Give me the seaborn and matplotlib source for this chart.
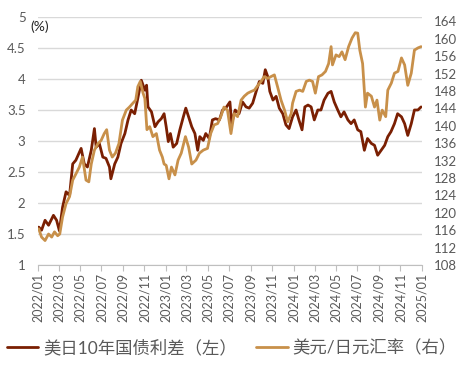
import pandas as pd
import matplotlib
matplotlib.use('Agg')
import matplotlib.pyplot as plt
import matplotlib.dates as mdates
from matplotlib.lines import Line2D
import seaborn as sns

# 美日10年国债利差 (%), left axis
spread_dates = ['2022-01-03', '2022-01-11', '2022-01-21', '2022-01-31', '2022-02-14', '2022-02-23',
                '2022-03-03', '2022-03-12', '2022-03-22', '2022-04-01', '2022-04-10', '2022-04-19',
                '2022-05-04', '2022-05-13', '2022-05-22', '2022-06-02', '2022-06-11', '2022-06-16',
                '2022-06-25', '2022-07-05', '2022-07-14', '2022-07-24', '2022-07-28', '2022-08-08',
                '2022-08-17', '2022-08-26', '2022-09-06', '2022-09-15', '2022-09-24', '2022-10-04',
                '2022-10-13', '2022-10-23', '2022-11-02', '2022-11-07', '2022-11-11', '2022-11-21',
                '2022-12-01', '2022-12-10', '2022-12-19', '2022-12-27',
                '2023-01-02', '2023-01-08', '2023-01-14', '2023-01-22', '2023-02-01', '2023-02-10',
                '2023-02-20', '2023-02-27', '2023-03-07', '2023-03-16', '2023-03-25', '2023-04-02',
                '2023-04-08', '2023-04-18', '2023-04-25', '2023-05-05', '2023-05-14', '2023-05-23',
                '2023-06-03', '2023-06-12', '2023-06-21', '2023-07-03', '2023-07-08', '2023-07-18',
                '2023-07-29', '2023-08-08', '2023-08-18', '2023-08-27', '2023-09-06', '2023-09-16',
                '2023-09-25', '2023-10-05', '2023-10-12', '2023-10-19', '2023-10-25', '2023-11-03',
                '2023-11-12', '2023-11-21', '2023-12-01', '2023-12-10', '2023-12-19', '2023-12-29',
                '2024-01-08', '2024-01-16', '2024-01-25', '2024-02-02', '2024-02-11', '2024-02-20',
                '2024-02-29', '2024-03-10', '2024-03-19', '2024-03-28', '2024-04-08', '2024-04-17',
                '2024-04-26', '2024-05-06', '2024-05-15', '2024-05-24', '2024-06-04', '2024-06-13',
                '2024-06-22', '2024-07-02', '2024-07-11', '2024-07-21', '2024-07-30', '2024-08-10',
                '2024-08-19', '2024-08-28', '2024-09-07', '2024-09-17', '2024-09-26', '2024-10-05',
                '2024-10-15', '2024-10-24', '2024-11-04', '2024-11-13', '2024-11-22', '2024-12-02',
                '2024-12-11', '2024-12-21', '2024-12-30']
spread = [1.61, 1.56, 1.72, 1.64, 1.80, 1.72, 1.55, 1.93, 2.18, 2.12, 2.63, 2.69,
          2.88, 2.63, 2.58, 2.85, 3.20, 2.90, 2.96, 2.74, 2.72, 2.58, 2.39, 2.63,
          2.74, 2.96, 3.12, 3.34, 3.50, 3.44, 3.69, 3.98, 3.82, 3.90, 3.55, 3.47,
          3.23, 3.31, 3.36, 3.44,
          3.23, 2.99, 3.12, 2.90, 2.96, 3.18, 3.39, 3.53, 3.39, 3.23, 3.12, 2.85,
          3.07, 3.01, 3.12, 3.04, 3.34, 3.36, 3.34, 3.50, 3.53, 3.63, 3.28, 3.50,
          3.44, 3.63, 3.55, 3.53, 3.61, 3.80, 3.96, 3.93, 4.15, 4.04, 3.80, 3.66,
          3.72, 3.53, 3.44, 3.26, 3.20, 3.39,
          3.50, 3.34, 3.18, 3.55, 3.58, 3.55, 3.34, 3.50, 3.50, 3.66, 3.77, 3.80,
          3.63, 3.50, 3.39, 3.47, 3.34, 3.28, 3.34, 3.18, 3.15, 2.85, 3.04, 2.96,
          2.93, 2.77, 2.85, 2.93, 3.07, 3.15, 3.28, 3.44, 3.39, 3.28, 3.09, 3.28,
          3.50, 3.50, 3.55]

# 美元/日元汇率, right axis
fx_dates = ['2022-01-03', '2022-01-11', '2022-01-21', '2022-01-31', '2022-02-09', '2022-02-17',
            '2022-02-26', '2022-03-04', '2022-03-12', '2022-03-22', '2022-04-01', '2022-04-10',
            '2022-04-19', '2022-04-29', '2022-05-08', '2022-05-18', '2022-05-26', '2022-06-02',
            '2022-06-11', '2022-06-21', '2022-06-30', '2022-07-09', '2022-07-16', '2022-07-24',
            '2022-08-01', '2022-08-10', '2022-08-20', '2022-08-30', '2022-09-10', '2022-09-19',
            '2022-09-29', '2022-10-07', '2022-10-13', '2022-10-20', '2022-10-28', '2022-11-02',
            '2022-11-08', '2022-11-16', '2022-11-25', '2022-12-05', '2022-12-14', '2022-12-22',
            '2022-12-27',
            '2023-01-02', '2023-01-10', '2023-01-17', '2023-01-27', '2023-02-05', '2023-02-14',
            '2023-02-26', '2023-03-07', '2023-03-16', '2023-03-28', '2023-04-07', '2023-04-18',
            '2023-04-30', '2023-05-09', '2023-05-19', '2023-05-29', '2023-06-07', '2023-06-16',
            '2023-06-26', '2023-07-06', '2023-07-15', '2023-07-25', '2023-08-04', '2023-08-13',
            '2023-08-23', '2023-09-02', '2023-09-11', '2023-09-21', '2023-09-30', '2023-10-09',
            '2023-10-19', '2023-10-28', '2023-11-07', '2023-11-16', '2023-11-26', '2023-12-06',
            '2023-12-15', '2023-12-25', '2023-12-29',
            '2024-01-08', '2024-01-18', '2024-01-27', '2024-02-06', '2024-02-15', '2024-02-24',
            '2024-03-03', '2024-03-12', '2024-03-22', '2024-04-01', '2024-04-10', '2024-04-17',
            '2024-04-21', '2024-05-01', '2024-05-10', '2024-05-18', '2024-05-27', '2024-06-06',
            '2024-06-16', '2024-06-25', '2024-07-02', '2024-07-08', '2024-07-16', '2024-07-24',
            '2024-07-30', '2024-08-10', '2024-08-19', '2024-08-26', '2024-09-03', '2024-09-10',
            '2024-09-20', '2024-09-26', '2024-10-06', '2024-10-15', '2024-10-25', '2024-11-04',
            '2024-11-13', '2024-11-22', '2024-12-02', '2024-12-11', '2024-12-21', '2024-12-30']
usdjpy = [116.3, 114.4, 113.6, 115.1, 114.4, 115.6, 114.7, 115.1, 119.0, 122.1, 123.7, 127.5,
          128.9, 130.5, 132.8, 127.5, 127.1, 131.2, 134.4, 135.9, 136.6, 138.2, 139.1, 134.4,
          132.8, 133.7, 135.9, 141.3, 143.6, 144.3, 145.2, 145.9, 149.0, 150.2, 147.5, 146.3,
          139.1, 139.8, 137.5, 138.2, 134.4, 132.8, 131.2,
          130.9, 127.8, 130.5, 128.7, 132.1, 133.7, 137.5, 135.1, 131.2, 132.1, 133.7, 134.4,
          134.8, 138.2, 140.2, 140.5, 142.1, 144.3, 143.6, 138.2, 142.8, 142.1, 145.9, 146.8,
          147.5, 147.9, 148.2, 149.3, 150.2, 151.3, 150.9, 151.3, 151.7, 149.0, 145.9, 143.6,
          140.9, 142.8, 145.2,
          147.9, 148.2, 147.9, 150.2, 150.5, 150.2, 147.5, 151.3, 151.7, 152.5, 154.3, 158.2,
          154.0, 156.3, 155.9, 157.0, 155.2, 158.2, 160.2, 161.4, 161.3, 157.4, 154.3, 144.3,
          147.5, 146.8, 144.3, 145.9, 141.3, 143.6, 142.1, 148.2, 149.8, 152.1, 152.5, 155.6,
          154.0, 149.3, 152.1, 157.4, 157.9, 158.2]

left_label = '美日10年国债利差（左）'
right_label = '美元/日元汇率（右）'

df_spread = pd.DataFrame({'date': pd.to_datetime(spread_dates), 'value': spread})
df_fx = pd.DataFrame({'date': pd.to_datetime(fx_dates), 'value': usdjpy})

sns.set_style('white')
plt.rcParams['font.family'] = ['Lato', 'Noto Sans CJK SC', 'DejaVu Sans']

red = '#7a1f02'
gold = '#c8904a'
grey_txt = '#595959'
lw = 2.0

fig = plt.figure(figsize=(4.64, 3.71), dpi=100)
ax = fig.add_axes([0.082, 0.286, 0.827, 0.668])
sns.lineplot(data=df_spread, x='date', y='value', ax=ax, color=red, linewidth=lw)
ax2 = ax.twinx()
sns.lineplot(data=df_fx, x='date', y='value', ax=ax2, color=gold, linewidth=lw)

ax.set_ylim(1, 5)
ax.set_yticks([1, 1.5, 2, 2.5, 3, 3.5, 4, 4.5, 5])
ax.set_yticklabels(['1', '1.5', '2', '2.5', '3', '3.5', '4', '4.5', '5'])
ax2.set_ylim(108, 165)
ax2.set_yticks(range(108, 165, 4))

ax.set_xlim(pd.Timestamp('2022-01-01'), pd.Timestamp('2025-01-01'))
ax.xaxis.set_major_locator(mdates.MonthLocator(bymonth=[1, 3, 5, 7, 9, 11]))
ax.xaxis.set_major_formatter(mdates.DateFormatter('%Y/%m'))

ax.grid(axis='y', color='#d9d9d9', linewidth=1)
ax.set_axisbelow(True)
for a in (ax, ax2):
    a.set_xlabel('')
    a.set_ylabel('')
    for s in ['top', 'left', 'right', 'bottom']:
        a.spines[s].set_visible(False)
ax.spines['bottom'].set_visible(True)
ax.spines['bottom'].set_color('#bfbfbf')

ax.tick_params(axis='x', rotation=90, labelsize=9, colors=grey_txt, length=4,
               color='#bfbfbf', pad=2, bottom=True)
ax.tick_params(axis='y', labelsize=9.5, colors=grey_txt, length=0, pad=9)
ax2.tick_params(axis='y', labelsize=9.5, colors=grey_txt, length=0, pad=9)

ax.text(-0.02, 0.985, '(%)', transform=ax.transAxes, fontsize=10, color='#262626',
        va='top', ha='left', bbox=dict(facecolor='white', edgecolor='none', pad=1))

handles = [Line2D([], [], color=red, linewidth=lw), Line2D([], [], color=gold, linewidth=lw)]
fig.legend(handles, [left_label, right_label], loc='center', bbox_to_anchor=(0.5, 0.062),
           ncol=2, frameon=False, fontsize=12.5, labelcolor=grey_txt,
           handlelength=1.8, handletextpad=0.3, columnspacing=1.1)

fig.savefig('out.png', dpi=100)
